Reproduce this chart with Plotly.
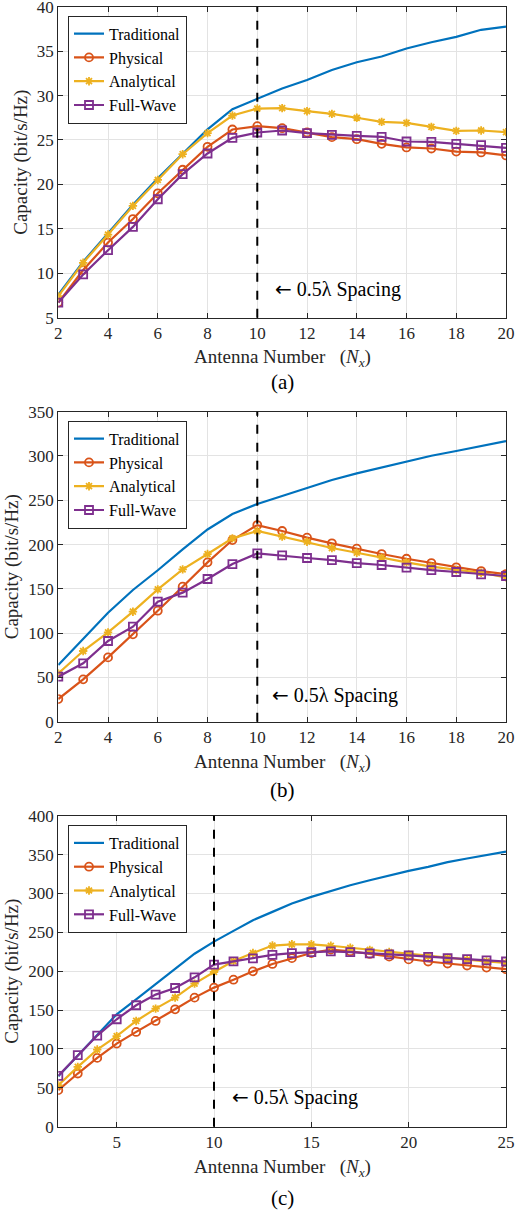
import plotly.graph_objects as go

# ---------------- data ----------------
nx_ab = list(range(2, 21))
nx_c = list(range(2, 26))

a_trad = [7.6, 11.3, 14.5, 17.7, 20.7, 23.5, 26.2, 28.47, 29.6, 30.8, 31.76, 32.88, 33.75, 34.4, 35.3, 36.0, 36.6, 37.4, 37.75]
a_phys = [6.7, 10.36, 13.46, 16.1, 19.0, 21.65, 24.23, 26.18, 26.55, 26.33, 25.84, 25.32, 25.09, 24.57, 24.16, 24.04, 23.7, 23.6, 23.26]
a_anal = [7.43, 11.18, 14.36, 17.58, 20.5, 23.4, 25.77, 27.75, 28.54, 28.58, 28.24, 27.94, 27.5, 27.04, 26.93, 26.48, 26.03, 26.07, 25.88]
a_full = [6.7, 9.87, 12.6, 15.22, 18.33, 21.16, 23.48, 25.24, 25.84, 26.07, 25.77, 25.58, 25.47, 25.36, 24.83, 24.79, 24.57, 24.42, 24.12]

b_trad = [64, 93, 123, 148.7, 171, 194.6, 217, 234.5, 245.8, 254.8, 264.2, 272.9, 280.4, 287.2, 294.3, 300.3, 305.6, 311.2, 316.9]
b_phys = [25.6, 47.8, 72.6, 98.6, 125.3, 152.4, 179.9, 205.1, 222, 215.3, 207.8, 201.4, 195.3, 189.3, 184, 179.1, 174.3, 170.1, 166.7]
b_anal = [54.6, 79.8, 100.9, 124.2, 149.4, 172, 189.3, 207, 215.3, 208.9, 203.2, 196.1, 190.8, 185.2, 179.9, 175, 171.2, 168.2, 163]
b_full = [50.8, 65.9, 91.1, 107.3, 135.5, 145.7, 161.1, 178, 190, 187.8, 184.8, 182.5, 179.1, 176.9, 173.9, 171.2, 169, 166.4, 164.5]

c_trad = [65, 92, 118.9, 144.6, 163.9, 183, 203, 222.5, 238, 251.9, 265.6, 276.3, 287, 295.6, 303.3, 310.6, 317, 323.4, 329, 334.2, 340.2, 344.9, 349.6, 353.9]
c_phys = [47, 68.4, 88.5, 106.9, 121.9, 136, 151, 166, 178.9, 189.1, 199.8, 209.3, 216.8, 223.4, 227.7, 225.7, 222.2, 218.7, 215.2, 212.5, 209.9, 207.3, 204.7, 202.6]
c_anal = [53.4, 77, 99.2, 116.4, 136, 151.9, 166, 184, 199, 213, 223.4, 233, 234.6, 234.6, 232.7, 230.1, 227.3, 224.7, 221.7, 219.3, 217, 214.8, 212.7, 210.7]
c_full = [65.4, 92, 117.2, 138.2, 156.2, 169.9, 178.4, 192.1, 208.4, 212.7, 216.5, 221, 223.3, 224.6, 225.4, 224.6, 222.8, 221.6, 220.3, 218.5, 216.8, 215.5, 213.8, 212.5]

series_names = ["Traditional", "Physical", "Analytical", "Full-Wave"]
panel_labels = ["(a)", "(b)", "(c)"]
spacing_x = 10

# ---------------- styling ----------------
W, H = 516, 1214
FONT = "Liberation Serif, Times New Roman, serif"
colors = ["#0072BD", "#D95319", "#EDB120", "#7E2F8E"]
symbols = [None, "circle-open", "asterisk-open", "square-open"]
msizes = [0, 8, 7, 8]

# pixel layout
x_left, x_right = 58.3, 506
panels_px = [(6.7, 317.7), (411.7, 721.7), (815.7, 1126.7)]
legend_top = [15.7, 420.7, 825.0]
ann_pos = [(10.63, 8.2), (10.5, 30), (10.83, 38)]
xlabel_y = [358, 763, 1168]
plabel_y = [382, 790, 1198]


def py(v):
    return 1 - v / H


fig = go.Figure()

data = [
    (nx_ab, [a_trad, a_phys, a_anal, a_full]),
    (nx_ab, [b_trad, b_phys, b_anal, b_full]),
    (nx_c, [c_trad, c_phys, c_anal, c_full]),
]
yranges = [[5, 40], [0, 350], [0, 400]]
ydticks = [5, 50, 50]
xranges = [[2, 20], [2, 20], [2, 25]]
xtickvals = [list(range(2, 21, 2)), list(range(2, 21, 2)), [5, 10, 15, 20, 25]]

for p in range(3):
    xs, ys = data[p]
    sfx = "" if p == 0 else str(p + 1)
    leg = "legend" if p == 0 else f"legend{p + 1}"
    for i in range(4):
        if i == 0:
            mode = "lines"
            marker = None
        else:
            mode = "lines+markers"
            marker = dict(symbol=symbols[i], size=msizes[i], color=colors[i],
                          line=dict(width=1.8, color=colors[i]))
        fig.add_trace(go.Scatter(
            x=xs, y=ys[i], name=series_names[i], mode=mode,
            line=dict(color=colors[i], width=2.2), marker=marker,
            xaxis="x" + sfx, yaxis="y" + sfx, legend=leg,
        ))
    top, bot = panels_px[p]
    axcommon = dict(showline=True, linecolor="#262626", linewidth=1.2, mirror="ticks",
                    ticks="inside", ticklen=5, tickcolor="#262626", automargin=False,
                    ticklabeloverflow="allow",
                    showgrid=True, gridcolor="#e3e3e3", gridwidth=1, zeroline=False,
                    tickfont=dict(family=FONT, size=17, color="#262626"))
    fig.update_layout(**{
        "xaxis" + sfx: dict(domain=[x_left / W, x_right / W], anchor="y" + sfx,
                            range=xranges[p], tickvals=xtickvals[p], **axcommon),
        "yaxis" + sfx: dict(domain=[py(bot), py(top)], anchor="x" + sfx,
                            range=yranges[p], dtick=ydticks[p],
                            title=dict(text="Capacity (bit/s/Hz)", standoff=4,
                                       font=dict(family=FONT, size=19, color="#262626")),
                            **axcommon),
        leg: dict(x=68 / W, y=py(legend_top[p]), xanchor="left", yanchor="top",
                  bordercolor="#262626", borderwidth=1, bgcolor="white",
                  font=dict(family=FONT, size=16, color="#000000"),
                  tracegroupgap=0, itemwidth=30),
    })
    # dashed vertical line
    fig.add_shape(type="line", xref="x" + sfx, yref="y" + sfx + " domain",
                  x0=spacing_x, x1=spacing_x, y0=0, y1=1,
                  line=dict(color="black", width=2, dash="dash"))
    # spacing annotation
    ax_, ay_ = ann_pos[p]
    fig.add_annotation(x=ax_, y=ay_, xref="x" + sfx, yref="y" + sfx,
                       text="<span style=\"font-family:DejaVu Sans\">\u2190</span> 0.5\u03bb Spacing",
                       showarrow=False, xanchor="left", yanchor="middle",
                       font=dict(family=FONT, size=20, color="black"))
    # x label
    fig.add_annotation(x=(x_left + x_right) / 2 / W, y=py(xlabel_y[p]), xref="paper", yref="paper",
                       text="Antenna Number   (<i>N<sub>x</sub></i>)", showarrow=False,
                       xanchor="center", yanchor="middle",
                       font=dict(family=FONT, size=19, color="#262626"))
    # panel label
    fig.add_annotation(x=(x_left + x_right) / 2 / W, y=py(plabel_y[p]), xref="paper", yref="paper",
                       text=panel_labels[p], showarrow=False,
                       xanchor="center", yanchor="middle",
                       font=dict(family=FONT, size=21, color="black"))

fig.update_layout(width=W, height=H, margin=dict(l=0, r=0, t=0, b=0, autoexpand=False),
                  font=dict(family=FONT),
                  paper_bgcolor="white", plot_bgcolor="white", showlegend=True)

fig.write_html("out.html")
